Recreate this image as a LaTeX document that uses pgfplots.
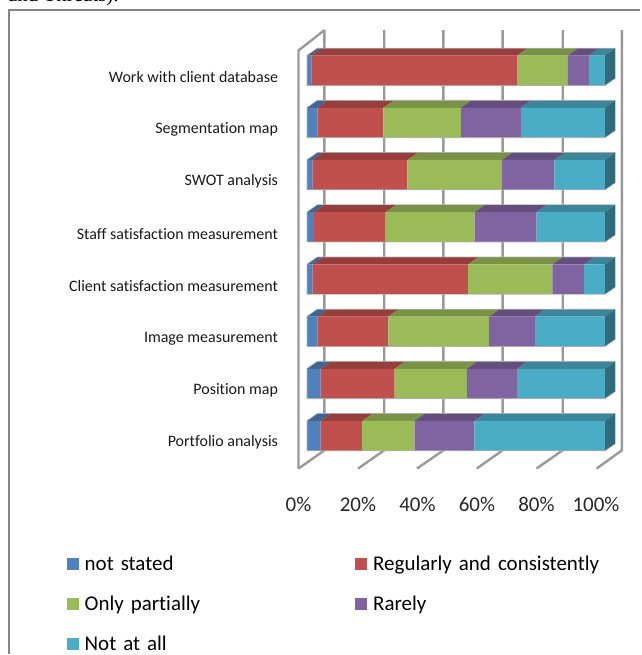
\documentclass[border=0pt]{standalone}
\usepackage{fontspec}
\setmainfont[Ligatures=NoCommon]{Carlito}
\newfontfamily\bodyserif{Liberation Serif}
\usepackage{pgfplots}
\usepackage{pgfplotstable}
\pgfplotsset{compat=1.18}
\definecolor{cA}{HTML}{4F81BD}
\definecolor{cB}{HTML}{C0504D}
\definecolor{cC}{HTML}{9BBB59}
\definecolor{cD}{HTML}{8064A2}
\definecolor{cE}{HTML}{4BACC6}
\definecolor{wallgray}{HTML}{999999}
\definecolor{framegray}{HTML}{858585}

% row 0 is the bottom bar
\pgfplotstableread{
pos a b c d e
0 4.4 14.0 17.6 20.1 43.9
1 4.4 24.9 24.3 16.9 29.5
2 3.4 23.8 33.9 15.4 23.5
3 1.7 52.3 28.3 10.7 7.0
4 2.2 24.1 29.9 20.8 23.0
5 1.7 31.9 31.8 17.6 17.0
6 3.4 22.1 26.1 20.1 28.3
7 1.3 69.2 17.0 7.1 5.4
}\shares

\pgfplotsset{deco/.style={stack plots=false,sharp plot,forget plot,no marks}}

% top face of one segment: #1 row, #2 from, #3 to, #4 colour
\newcommand{\topface}[4]{%
  \pgfmathsetmacro\yf{#1+0.282}\pgfmathsetmacro\yb{#1+0.416}%
  \pgfmathsetmacro\xa{#2+3.36}\pgfmathsetmacro\xb{#3+3.36}%
  \edef\temp{\noexpand\addplot[deco,draw=none,fill=#4!78!black]
    coordinates {(#2,\yf) (#3,\yf) (\xb,\yb) (\xa,\yb)} -- cycle;}\temp}

\begin{document}
\begin{tikzpicture}
\begin{axis}[
    scale only axis,
    width=298pt, height=418.3pt,
    xmin=0, xmax=100, ymin=-0.5, ymax=7.5,
    clip=false,
    axis line style={draw=none},
    xbar stacked,
    reverse stacked plots=false,
    bar width=29.5pt,
    major tick length=0pt,
    xtick={0,20,40,60,80,100},
    xticklabels={0\%,20\%,40\%,60\%,80\%,100\%},
    x tick label style={font=\fontsize{21}{21}\selectfont, xshift=-9pt, yshift=-32pt, color=black!85},
    ytick={0,...,7},
    yticklabels={Portfolio analysis,Position map,Image measurement,Client satisfaction measurement,Staff satisfaction measurement,SWOT analysis,Segmentation map,Work with client database},
    y tick label style={font=\fontsize{16}{16}\selectfont, xshift=-26pt, yshift=-7pt, color=black!90},
    /pgf/number format/assume math mode=true,
    legend cell align=left,
    legend columns=2,
    legend style={overlay, draw=none, fill=none, at={(axis cs:-82.0,-2.21)}, anchor=north west,
      font=\fontsize{21}{21}\selectfont, row sep=18pt,
      /tikz/every even column/.append style={column sep=28pt},
      nodes={anchor=west, align=left, text width=240pt, inner sep=3pt}},
    legend image code/.code={\fill[#1] (0pt,-6pt) rectangle (12pt,6pt); \path (15pt,0pt);},
  ]
  % outer frame, cut by the page at the right and the bottom
  \addplot[deco,framegray,line width=2.5pt]
    coordinates {(-100.3,-4.178) (-100.3,8.156) (111.74,8.156)};

  % chart walls and floor
  \addplot[deco,wallgray,line width=2.4pt]
    coordinates {(-3.0,-0.63) (-3.0,7.38) (5.7,7.77)};
  \addplot[deco,wallgray,line width=2.4pt]
    coordinates {(-3.0,-0.63) (5.7,-0.28) (5.7,7.77)};
  \foreach \g/\f in {25.8/17.0,45.7/36.8,65.6/56.9,85.8/77.0,105.7/97.2}{
    \edef\temp{\noexpand\addplot[deco,wallgray,line width=2.4pt]
      coordinates {(\f,-0.63) (\g,-0.28) (\g,7.77)};}\temp
  }

  % top and right faces
  \pgfplotstablegetrowsof{\shares}
  \pgfmathtruncatemacro\last{\pgfplotsretval-1}
  \foreach \r in {0,...,\last}{
    \pgfplotstablegetelem{\r}{a}\of{\shares}\let\va\pgfplotsretval
    \pgfplotstablegetelem{\r}{b}\of{\shares}\let\vb\pgfplotsretval
    \pgfplotstablegetelem{\r}{c}\of{\shares}\let\vc\pgfplotsretval
    \pgfplotstablegetelem{\r}{d}\of{\shares}\let\vd\pgfplotsretval
    \pgfmathsetmacro\sa{\va}
    \pgfmathsetmacro\sb{\sa+\vb}
    \pgfmathsetmacro\sc{\sb+\vc}
    \pgfmathsetmacro\sd{\sc+\vd}
    \pgfmathsetmacro\ylo{\r-0.282}\pgfmathsetmacro\yhi{\r+0.282}
    \pgfmathsetmacro\ylob{\r-0.148}\pgfmathsetmacro\yhib{\r+0.416}
    % soft grey edge round the whole bar
    \edef\temp{\noexpand\addplot[deco,draw=black!30,line width=1.6pt,fill=white]
      coordinates {(0,\ylo) (100,\ylo) (103.36,\ylob) (103.36,\yhib) (3.36,\yhib) (0,\yhi)} -- cycle;}\temp
    \topface{\r}{0}{\sa}{cA}
    \topface{\r}{\sa}{\sb}{cB}
    \topface{\r}{\sb}{\sc}{cC}
    \topface{\r}{\sc}{\sd}{cD}
    \topface{\r}{\sd}{100}{cE}
    \edef\temp{\noexpand\addplot[deco,draw=none,fill=cE!62!black]
      coordinates {(100,\ylo) (103.36,\ylob) (103.36,\yhib) (100,\yhi)} -- cycle;}\temp
  }

  \addplot[fill=cA,draw=none] table[x=a,y=pos] {\shares};
  \addplot[fill=cB,draw=none] table[x=b,y=pos] {\shares};
  \addplot[fill=cC,draw=none] table[x=c,y=pos] {\shares};
  \addplot[fill=cD,draw=none] table[x=d,y=pos] {\shares};
  \addplot[fill=cE,draw=none] table[x=e,y=pos] {\shares};
  \legend{not stated,Regularly and consistently,Only partially,Rarely,Not at all}

  % last line of the surrounding text, cut by the page
  \node[overlay, anchor=base east, inner sep=0pt, font=\bodyserif\fontsize{21}{21}\selectfont]
    at (axis cs:-63.4,8.32) {and Threats).};

  % page extent
  \path (axis cs:-103.36,-4.178) rectangle (axis cs:111.74,8.347);
\end{axis}
\end{tikzpicture}
\end{document}
